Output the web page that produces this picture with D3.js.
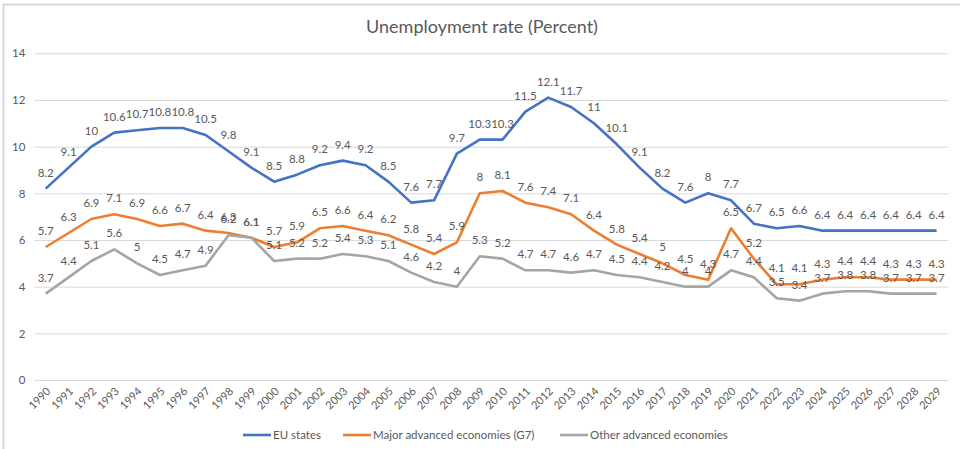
<!DOCTYPE html>
<html>
<head>
<meta charset="utf-8">
<script src="https://cdn.jsdelivr.net/npm/d3@7"></script>
<style>
  body { margin: 0; background: #fff; }
  svg { display: block; font-family: Lato, "Open Sans", sans-serif; }
</style>
</head>
<body>
<svg id="chart" width="960" height="449"></svg>
<script>
const years = d3.range(1990, 2030).map(String);

const euStates = [8.2, 9.1, 10, 10.6, 10.7, 10.8, 10.8, 10.5, 9.8, 9.1,
  8.5, 8.8, 9.2, 9.4, 9.2, 8.5, 7.6, 7.7, 9.7, 10.3,
  10.3, 11.5, 12.1, 11.7, 11, 10.1, 9.1, 8.2, 7.6, 8,
  7.7, 6.7, 6.5, 6.6, 6.4, 6.4, 6.4, 6.4, 6.4, 6.4];

const g7 = [5.7, 6.3, 6.9, 7.1, 6.9, 6.6, 6.7, 6.4, 6.3, 6.1,
  5.7, 5.9, 6.5, 6.6, 6.4, 6.2, 5.8, 5.4, 5.9, 8,
  8.1, 7.6, 7.4, 7.1, 6.4, 5.8, 5.4, 5, 4.5, 4.3,
  6.5, 5.2, 4.1, 4.1, 4.3, 4.4, 4.4, 4.3, 4.3, 4.3];

const otherAdvanced = [3.7, 4.4, 5.1, 5.6, 5, 4.5, 4.7, 4.9, 6.2, 6.1,
  5.1, 5.2, 5.2, 5.4, 5.3, 5.1, 4.6, 4.2, 4, 5.3,
  5.2, 4.7, 4.7, 4.6, 4.7, 4.5, 4.4, 4.2, 4, 4,
  4.7, 4.4, 3.5, 3.4, 3.7, 3.8, 3.8, 3.7, 3.7, 3.7];

const yTicks = [0, 2, 4, 6, 8, 10, 12, 14];

const seriesNames = ["EU states", "Major advanced economies (G7)", "Other advanced economies"];
const seriesColors = ["#4472c4", "#ed7d31", "#a5a5a5"];

const series = [euStates, g7, otherAdvanced].map((values, i) => ({
  name: seriesNames[i],
  color: seriesColors[i],
  values: values
}));

const svg = d3.select("#chart");
const textColor = "#595959";

// outer chart frame (cropped on right and bottom in the original)
svg.append("rect")
  .attr("x", 3.5).attr("y", 4.5)
  .attr("width", 1000).attr("height", 1000)
  .attr("fill", "none")
  .attr("stroke", "#d9d9d9")
  .attr("stroke-width", 2);

const x = d3.scalePoint().domain(years).range([34.3, 948]).padding(0.5);
const y = d3.scaleLinear().domain([0, 14]).range([380, 53.3]);

// title
svg.append("text")
  .attr("x", 482).attr("y", 33)
  .attr("text-anchor", "middle")
  .attr("fill", textColor)
  .attr("font-size", 18)
  .text("Unemployment rate (Percent)");

// gridlines + y labels
const yAxis = d3.axisLeft(y).tickValues(yTicks).tickSize(-(948 - 34.3)).tickPadding(9);
const gy = svg.append("g").attr("transform", "translate(34.3,0)").call(yAxis);
gy.select(".domain").remove();
gy.selectAll(".tick line").attr("stroke", "#d9d9d9").attr("stroke-width", 1);
gy.selectAll(".tick text").attr("fill", textColor).attr("font-size", 11.5)
  .attr("font-family", "Lato, sans-serif");

// x labels
const xAxis = d3.axisBottom(x).tickSize(0).tickPadding(0);
const gx = svg.append("g").attr("transform", "translate(0,380)").call(xAxis);
gx.select(".domain").remove();
gx.selectAll(".tick text")
  .attr("fill", textColor)
  .attr("font-size", 11)
  .attr("font-family", "Lato, sans-serif")
  .attr("text-anchor", "end")
  .attr("dy", 0)
  .attr("transform", "translate(5,12) rotate(-45)");

// lines
const line = d3.line()
  .x((d, i) => x(years[i]))
  .y(d => y(d));

svg.append("g").selectAll("path")
  .data(series)
  .join("path")
  .attr("d", d => line(d.values))
  .attr("fill", "none")
  .attr("stroke", d => d.color)
  .attr("stroke-width", 2.6)
  .attr("stroke-linejoin", "round");

// data labels
series.forEach(s => {
  svg.append("g").selectAll("text")
    .data(s.values)
    .join("text")
    .attr("x", (d, i) => x(years[i]))
    .attr("y", d => y(d) - 12)
    .attr("text-anchor", "middle")
    .attr("fill", textColor)
    .attr("font-size", 11.5)
    .text(d => d);
});

// legend
const legendX = [243, 343, 560];
const legend = svg.append("g").selectAll("g")
  .data(series)
  .join("g")
  .attr("transform", (d, i) => `translate(${legendX[i]},435)`);
legend.append("line")
  .attr("x1", 0).attr("x2", 28)
  .attr("stroke", d => d.color)
  .attr("stroke-width", 2.6);
legend.append("text")
  .attr("x", 30).attr("y", 4)
  .attr("fill", textColor)
  .attr("font-size", 11.5)
  .text(d => d.name);
</script>
</body>
</html>
